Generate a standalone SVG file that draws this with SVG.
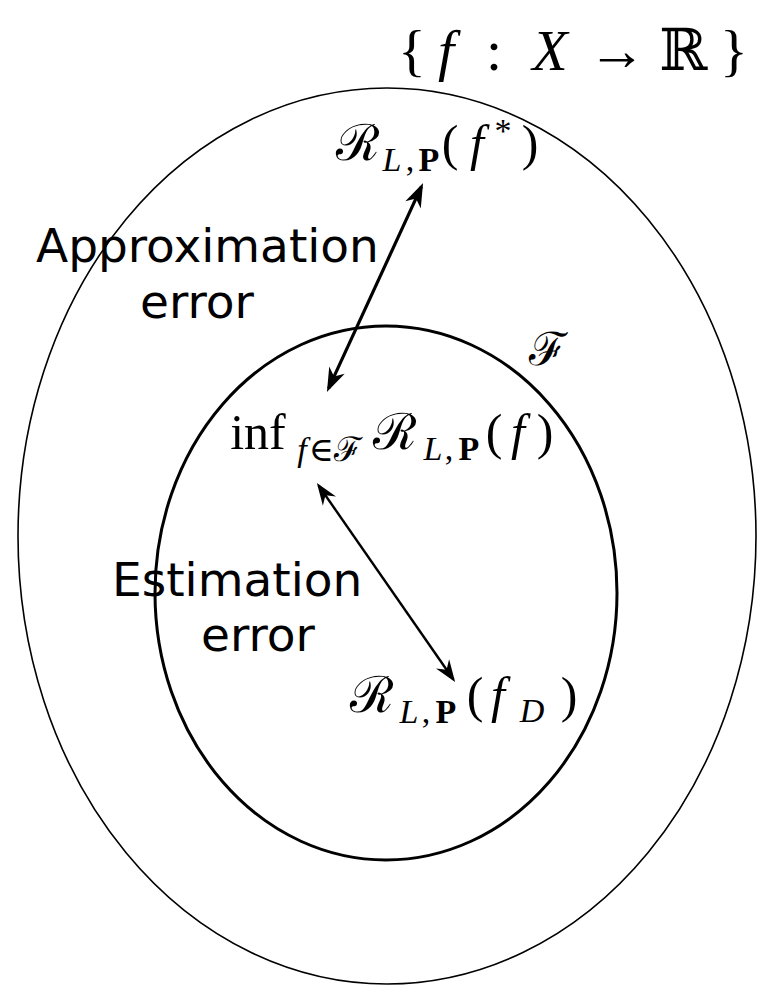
<svg xmlns="http://www.w3.org/2000/svg" width="758" height="987" viewBox="0 0 758 987">
<style>
.m{font-family:"Liberation Serif","DejaVu Serif",serif;fill:#000;text-anchor:middle}
.i{font-style:italic}
.b{font-weight:bold}
.s{font-size:34px}
.lbl{font-family:"DejaVu Sans","Liberation Sans",sans-serif;font-size:47px;fill:#000}
</style>
<defs>
<marker id="ah" viewBox="-26 -10 28 20" markerWidth="28" markerHeight="20" refX="-4" refY="0" orient="auto-start-reverse" markerUnits="userSpaceOnUse">
<path d="M0,0 L-24,-8.5 L-17,0 L-24,8.5 Z" fill="#000"/>
</marker>
<marker id="ah2" viewBox="-26 -10 28 20" markerWidth="28" markerHeight="20" refX="-3" refY="0" orient="auto-start-reverse" markerUnits="userSpaceOnUse">
<path d="M0,0 L-22,-8 L-15,0 L-22,8 Z" fill="#000"/>
</marker>
</defs>
<rect width="758" height="987" fill="#fff"/>
<g id="outer">
<ellipse cx="387" cy="536" rx="369" ry="448" fill="none" stroke="#000" stroke-width="1.6"/>
<text class="m" font-size="58" y="70"><tspan x="412">{</tspan><tspan class="i" x="446">f</tspan><tspan x="494">:</tspan><tspan class="i" x="550">X</tspan><tspan x="617">→</tspan><tspan x="683">ℝ</tspan><tspan x="734">}</tspan></text>
</g>
<g id="inner">
<ellipse cx="386" cy="593" rx="231" ry="267" fill="none" stroke="#000" stroke-width="3"/>
<text class="m" font-size="46" x="548" y="365">ℱ</text>
</g>
<g id="fstar">
<text class="m" font-size="50" y="160"><tspan x="358">ℛ</tspan><tspan class="i s" x="392" y="171">L</tspan><tspan class="s" x="410" y="171">,</tspan><tspan class="b s" x="429" y="171">P</tspan><tspan x="450" y="160">(</tspan><tspan class="i" x="477">f</tspan><tspan class="s" x="503" y="142">*</tspan><tspan x="530" y="160">)</tspan></text>
</g>
<g id="inf">
<text class="m" font-size="50" y="449"><tspan x="258">inf</tspan><tspan class="i s" x="302" y="461">f</tspan><tspan class="s" x="321" y="461">∈</tspan><tspan class="s" x="348" y="461">ℱ</tspan><tspan x="395" y="449">ℛ</tspan><tspan class="i s" x="433" y="460">L</tspan><tspan class="s" x="449" y="460">,</tspan><tspan class="b s" x="469" y="460">P</tspan><tspan x="494" y="449">(</tspan><tspan class="i" x="518">f</tspan><tspan x="545">)</tspan></text>
</g>
<g id="fD">
<text class="m" font-size="50" y="712"><tspan x="372">ℛ</tspan><tspan class="i s" x="409" y="723">L</tspan><tspan class="s" x="426" y="723">,</tspan><tspan class="b s" x="446" y="723">P</tspan><tspan x="475" y="712">(</tspan><tspan class="i" x="498">f</tspan><tspan class="i s" x="532" y="722">D</tspan><tspan x="569" y="712">)</tspan></text>
</g>
<g id="labels">
<text class="lbl" x="36" y="262">Approximation</text>
<text class="lbl" x="197" y="318" text-anchor="middle">error</text>
<text class="lbl" x="112" y="596">Estimation</text>
<text class="lbl" x="258" y="651" text-anchor="middle">error</text>
</g>
<g id="connectors" stroke="#000" fill="none">
<line x1="421.4" y1="186.7" x2="328.6" y2="388.3" stroke-width="3.2" marker-start="url(#ah)" marker-end="url(#ah)"/>
<line x1="318.6" y1="485.5" x2="453.4" y2="679.5" stroke-width="2.4" marker-start="url(#ah2)" marker-end="url(#ah2)"/>
</g>
</svg>
